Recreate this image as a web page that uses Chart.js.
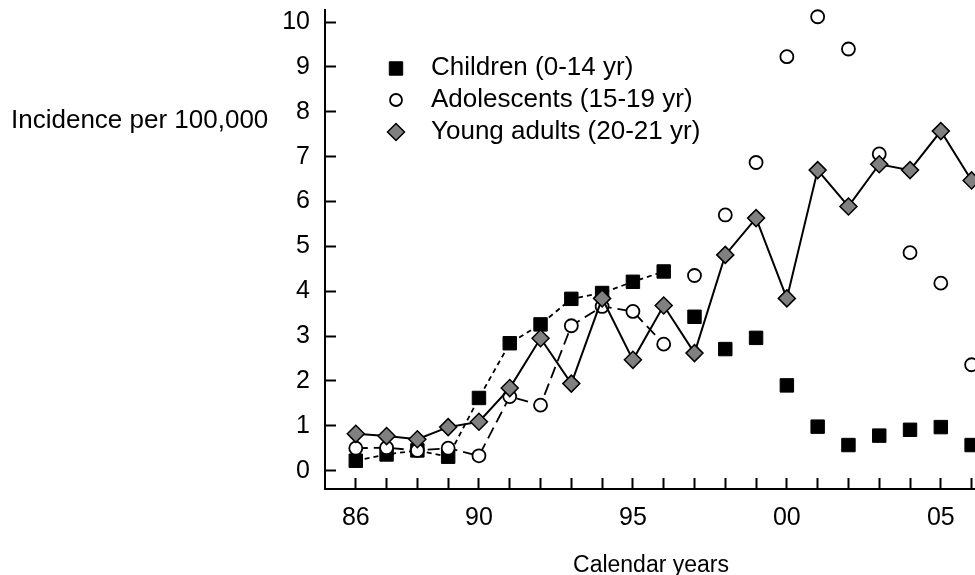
<!DOCTYPE html>
<html>
<head>
<meta charset="utf-8">
<script src="https://cdn.jsdelivr.net/npm/chart.js@4.4.0/dist/chart.umd.min.js"></script>
<style>
  html, body { margin: 0; padding: 0; background: #fff; }
</style>
</head>
<body>
<canvas id="graphique" width="975" height="575"></canvas>
<script>
// incidence per 100,000 by calendar year
var years = [1986, 1987, 1988, 1989, 1990, 1991, 1992, 1993, 1994, 1995, 1996,
             1997, 1998, 1999, 2000, 2001, 2002, 2003, 2004, 2005, 2006];
var yearLabels = { 1986: '86', 1990: '90', 1995: '95', 2000: '00', 2005: '05' };
var yTicks = [0, 1, 2, 3, 4, 5, 6, 7, 8, 9, 10];

var children = [0.22, 0.36, 0.45, 0.31, 1.62, 2.84, 3.26, 3.83, 3.96, 4.21, 4.44,
                3.43, 2.71, 2.96, 1.90, 0.98, 0.57, 0.78, 0.91, 0.97, 0.57];
var adolescents = [0.50, 0.51, 0.45, 0.50, 0.33, 1.65, 1.46, 3.23, 3.66, 3.55, 2.82,
                   4.35, 5.70, 6.87, 9.23, 10.12, 9.40, 7.06, 4.86, 4.18, 2.36];
var youngAdults = [0.82, 0.77, 0.70, 0.97, 1.09, 1.84, 2.95, 1.94, 3.84, 2.47, 3.68,
                   2.62, 4.81, 5.63, 3.84, 6.70, 5.89, 6.83, 6.70, 7.57, 6.47];

var seriesNames = ['Children (0-14 yr)', 'Adolescents (15-19 yr)', 'Young adults (20-21 yr)'];
var joinedUntil = 10; // children and adolescents are only joined up to 1996

var FONT = '"Liberation Sans", Arial, Helvetica, sans-serif';
Chart.defaults.font.family = FONT;
Chart.defaults.color = '#000';

function toPoints(values) {
  return years.map(function (yr, i) { return { x: yr, y: values[i] }; });
}

function cutLine(ctx) {
  return ctx.p0DataIndex >= joinedUntil ? 'rgba(0,0,0,0)' : '#000';
}

// legend and free text drawn straight on the canvas
var extras = {
  id: 'extras',
  afterDraw: function (chart) {
    var ctx = chart.ctx;
    ctx.save();
    ctx.fillStyle = '#000';
    ctx.textBaseline = 'alphabetic';
    ctx.textAlign = 'left';
    ctx.font = '26px ' + FONT;
    ctx.fillText('Incidence per 100,000', 11, 128);

    ctx.textAlign = 'center';
    ctx.font = '23px ' + FONT;
    ctx.fillText('Calendar years', 651, 572);

    var rows = [75, 107, 139];
    var markY = [68.5, 100, 132];
    var sizes = [9.5, 6, 8.5];
    chart.data.datasets.forEach(function (ds, i) {
      ctx.fillStyle = ds.pointBackgroundColor;
      ctx.strokeStyle = ds.pointBorderColor;
      ctx.lineWidth = ds.pointBorderWidth;
      Chart.helpers.drawPoint(ctx, {
        pointStyle: ds.pointStyle, radius: sizes[i], rotation: 0,
        borderWidth: ds.pointBorderWidth
      }, 396, markY[i]);
      ctx.fillStyle = '#000';
      ctx.textAlign = 'left';
      ctx.font = '26px ' + FONT;
      ctx.fillText(ds.label, 431, rows[i]);
    });
    ctx.restore();
  }
};

var myChartConfig = {
  type: 'line',
  data: {
    datasets: [{
      label: seriesNames[0],
      data: toPoints(children),
      order: 3,
      borderColor: '#000',
      borderWidth: 1.8,
      borderDash: [5, 4],
      segment: { borderColor: cutLine },
      pointStyle: 'rect',
      pointRadius: 9.5,
      pointBackgroundColor: '#000',
      pointBorderColor: '#000',
      pointBorderWidth: 1,
      clip: false
    }, {
      label: seriesNames[1],
      data: toPoints(adolescents),
      order: 2,
      borderColor: '#000',
      borderWidth: 1.8,
      borderDash: [12, 6],
      segment: { borderColor: cutLine },
      pointStyle: 'circle',
      pointRadius: 6.5,
      pointBackgroundColor: '#fff',
      pointBorderColor: '#000',
      pointBorderWidth: 1.8,
      clip: false
    }, {
      label: seriesNames[2],
      data: toPoints(youngAdults),
      order: 1,
      borderColor: '#000',
      borderWidth: 2,
      pointStyle: 'rectRot',
      pointRadius: 8.5,
      pointBackgroundColor: '#808080',
      pointBorderColor: '#000',
      pointBorderWidth: 1.5,
      clip: false
    }]
  },
  options: {
    responsive: false,
    animation: false,
    devicePixelRatio: 1,
    layout: { autoPadding: false, padding: { top: 10, right: 0, bottom: 0, left: 0 } },
    plugins: { legend: { display: false }, tooltip: { enabled: false } },
    scales: {
      x: {
        type: 'linear',
        min: 1985,
        max: 2006.11,
        afterBuildTicks: function (s) { s.ticks = years.map(function (v) { return { value: v }; }); },
        afterFit: function (s) {
          s.height = 86;
          s.paddingLeft = 0; s.paddingRight = 0;
        },
        border: { display: true, color: '#000', width: 2 },
        grid: { drawOnChartArea: false, color: '#000', tickLength: -11, tickWidth: 2 },
        ticks: {
          autoSkip: false, maxRotation: 0, padding: 25,
          font: { size: 25 },
          callback: function (v) { return yearLabels[v] || ''; }
        }
      },
      y: {
        min: -0.41,
        max: 10.27,
        afterBuildTicks: function (s) { s.ticks = yTicks.map(function (v) { return { value: v }; }); },
        afterFit: function (s) {
          s.width = 325;
          s.paddingTop = 0; s.paddingBottom = 0;
        },
        border: { display: true, color: '#000', width: 2 },
        grid: { drawOnChartArea: false, color: '#000', tickLength: -11, tickWidth: 2 },
        ticks: { padding: 26, font: { size: 25 } }
      }
    }
  },
  plugins: [extras]
};

var myChart = new Chart(document.getElementById('graphique'), myChartConfig);
</script>
</body>
</html>
